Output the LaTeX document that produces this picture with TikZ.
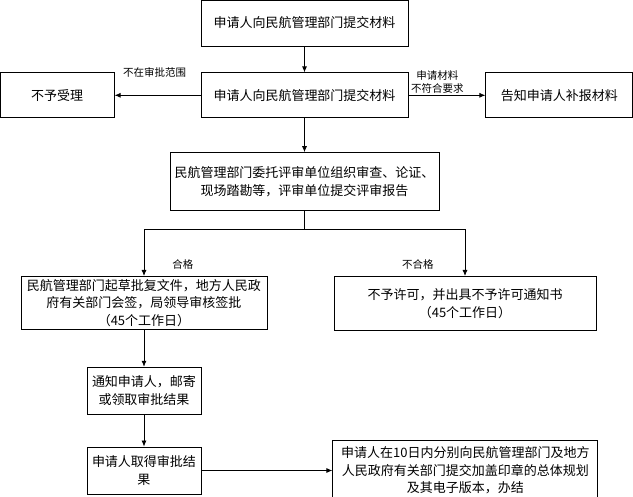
\documentclass[tikz,border=0pt]{standalone}
\usepackage{fontspec}
\setmainfont{Noto Sans CJK SC}
\usetikzlibrary{arrows.meta,calc,positioning}

\begin{document}
\begin{tikzpicture}[
  x=1pt,y=1pt,
  every node/.style={align=center,inner sep=0pt,font=\fontsize{13}{17.5}\selectfont},
  box/.style={draw,line width=0.8pt,fill=white},
  lbl/.style={font=\fontsize{10.5}{13}\selectfont},
  arr/.style={-{Latex[length=6pt,width=5pt]},line width=0.8pt}
]
\useasboundingbox (0,0) rectangle (633,-497);
\node[box,minimum width=207pt,minimum height=46pt] (submit) at (304.5,-23) {申请人向民航管理部门提交材料};
\node[box,minimum width=207pt,minimum height=45pt,below=26pt of submit] (accept) {申请人向民航管理部门提交材料};
\node[box,minimum width=114pt,minimum height=45pt,left=86pt of accept] (refuse) {不予受理};
\node[box,minimum width=147pt,minimum height=45pt,right=77pt of accept] (supply) {告知申请人补报材料};
\node[box,minimum width=269pt,minimum height=58pt,below=34pt of accept] (review) {民航管理部门委托评审单位组织审查、论证、\\现场踏勘等，评审单位提交评审报告};
\node[box,minimum width=246pt,minimum height=53pt,below=65pt of review,xshift=-160.5pt] (approve) {民航管理部门起草批复文件，地方人民政\\府有关部门会签，局领导审核签批\\（45个工作日）};
\node[box,minimum width=262pt,minimum height=54pt,below=65pt of review,xshift=160.5pt] (deny) {不予许可，并出具不予许可通知书\\（45个工作日）};
\node[box,minimum width=114pt,minimum height=47pt,below=37pt of approve] (notify) {通知申请人，邮寄\\或领取审批结果};
\node[box,minimum width=114pt,minimum height=47pt,below=32pt of notify] (obtain) {申请人取得审批结\\果};
\node[box,minimum width=265pt,minimum height=60pt,right=131pt of obtain] (finish) {申请人在10日内分别向民航管理部门及地方\\人民政府有关部门提交加盖印章的总体规划\\及其电子版本，办结};

\coordinate (split) at ($(review.south)+(0,-18)$);

\draw[arr] (submit) -- (accept);
\draw[arr] (accept) -- node[lbl,pos=0.535,above=18pt] {不在审批范围} (refuse);
\draw[arr] (accept) -- node[lbl,pos=0.377,above=1.5pt] {申请材料\\不符合要求} (supply);
\draw[arr] (accept) -- (review);
\draw[line width=0.8pt] (review) -- (split);
\draw[arr] (split) -| node[lbl,pos=0.88,right=28pt] {合格} (approve);
\draw[arr] (split) -| node[lbl,pos=0.88,left=31pt] {不合格} (deny);
\draw[arr] (approve) -- (notify);
\draw[arr] (notify) -- (obtain);
\draw[arr] (obtain) -- (finish);
\end{tikzpicture}
\end{document}
